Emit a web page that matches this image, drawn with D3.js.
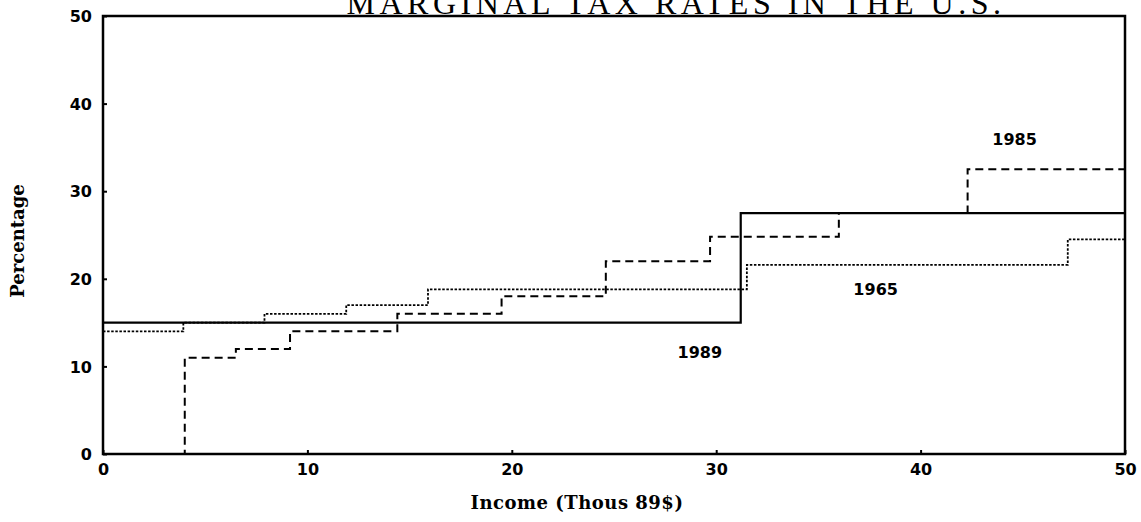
<!DOCTYPE html>
<html>
<head>
<meta charset="utf-8">
<script src="https://cdn.jsdelivr.net/npm/d3@7"></script>
<style>
  body { margin: 0; background: #fff; }
  svg { display: block; }
  .tick text { font-family: "DejaVu Sans", sans-serif; font-weight: bold; font-size: 16px; }
</style>
</head>
<body>
<svg id="chart" width="1141" height="522"></svg>
<script>
// tax schedules, income in thousands of 1989 dollars, rate in percent
var income1965 = [0, 3.93, 7.9, 11.9, 15.9, 31.5, 47.2, 50];
var rate1965   = [14, 15, 16, 17, 18.8, 21.6, 24.5, 24.5];

var income1985 = [0, 4.0, 6.5, 9.15, 14.4, 19.5, 24.6, 29.7, 36.0, 42.3, 50];
var rate1985   = [0, 11, 12, 14, 16, 18, 22, 24.8, 27.5, 32.5, 32.5];

var income1989 = [0, 31.2, 50];
var rate1989   = [15, 27.5, 27.5];

var xTicks = [0, 10, 20, 30, 40, 50];
var yTicks = [0, 10, 20, 30, 40, 50];

var yearLabels = [
    { text: '1985', x: 44.6, y: 35.3 },
    { text: '1965', x: 37.8, y: 18.1 },
    { text: '1989', x: 29.2, y: 11.0 }
];

var svg = d3.select('#chart');

var x = d3.scaleLinear().domain([0, 50]).range([103, 1125]);
var y = d3.scaleLinear().domain([0, 50]).range([454, 16]);

// title sits on top of the frame, its upper part runs off the page as in the scan
svg.append('text')
    .attr('x', 676)
    .attr('y', 14)
    .attr('text-anchor', 'middle')
    .style('font-family', '"Liberation Serif", serif')
    .style('font-size', '32px')
    .style('letter-spacing', '4.5px')
    .text('MARGINAL TAX RATES IN THE U.S.');

var xAxis = svg.append('g')
    .attr('transform', 'translate(0,' + y(0) + ')')
    .call(d3.axisBottom(x).tickValues(xTicks).tickSize(-4).tickPadding(10));

var yAxis = svg.append('g')
    .attr('transform', 'translate(' + x(0) + ',0)')
    .call(d3.axisLeft(y).tickValues(yTicks).tickSize(-4).tickPadding(11));

[xAxis, yAxis].forEach(function (g) {
    g.select('.domain').remove();
    g.selectAll('.tick line').attr('stroke', '#000').attr('stroke-width', 2);
});
yAxis.selectAll('.tick text').attr('dy', '0.36em');

// frame
svg.append('rect')
    .attr('x', x(0))
    .attr('y', y(50))
    .attr('width', x(50) - x(0))
    .attr('height', y(0) - y(50))
    .attr('fill', 'none')
    .attr('stroke', '#000')
    .attr('stroke-width', 2.5);

function stepLine (xs, ys) {
    return d3.line()
        .curve(d3.curveStepAfter)
        .x(function (d) { return x(d); })
        .y(function (d, i) { return y(ys[i]); })(xs);
}

svg.append('path')
    .attr('d', stepLine(income1965, rate1965))
    .attr('fill', 'none')
    .attr('stroke', '#000')
    .attr('stroke-width', 1.8)
    .attr('stroke-dasharray', '2.5,1.6');

svg.append('path')
    .attr('d', stepLine(income1985, rate1985))
    .attr('fill', 'none')
    .attr('stroke', '#000')
    .attr('stroke-width', 2)
    .attr('stroke-dasharray', '8,5');

svg.append('path')
    .attr('d', stepLine(income1989, rate1989))
    .attr('fill', 'none')
    .attr('stroke', '#000')
    .attr('stroke-width', 2.2);

svg.selectAll('text.year')
    .data(yearLabels)
    .enter().append('text')
    .attr('class', 'year')
    .attr('x', function (d) { return x(d.x); })
    .attr('y', function (d) { return y(d.y); })
    .attr('text-anchor', 'middle')
    .style('font-family', '"DejaVu Sans", sans-serif')
    .style('font-weight', 'bold')
    .style('font-size', '16px')
    .text(function (d) { return d.text; });

svg.append('text')
    .attr('x', 577)
    .attr('y', 509)
    .attr('text-anchor', 'middle')
    .style('font-family', '"DejaVu Serif", serif')
    .style('font-weight', 'bold')
    .style('font-size', '18px')
    .style('letter-spacing', '0.5px')
    .text('Income (Thous 89$)');

svg.append('text')
    .attr('transform', 'translate(24,241) rotate(-90)')
    .attr('text-anchor', 'middle')
    .style('font-family', '"DejaVu Serif", serif')
    .style('font-weight', 'bold')
    .style('font-size', '18px')
    .text('Percentage');
</script>
</body>
</html>
